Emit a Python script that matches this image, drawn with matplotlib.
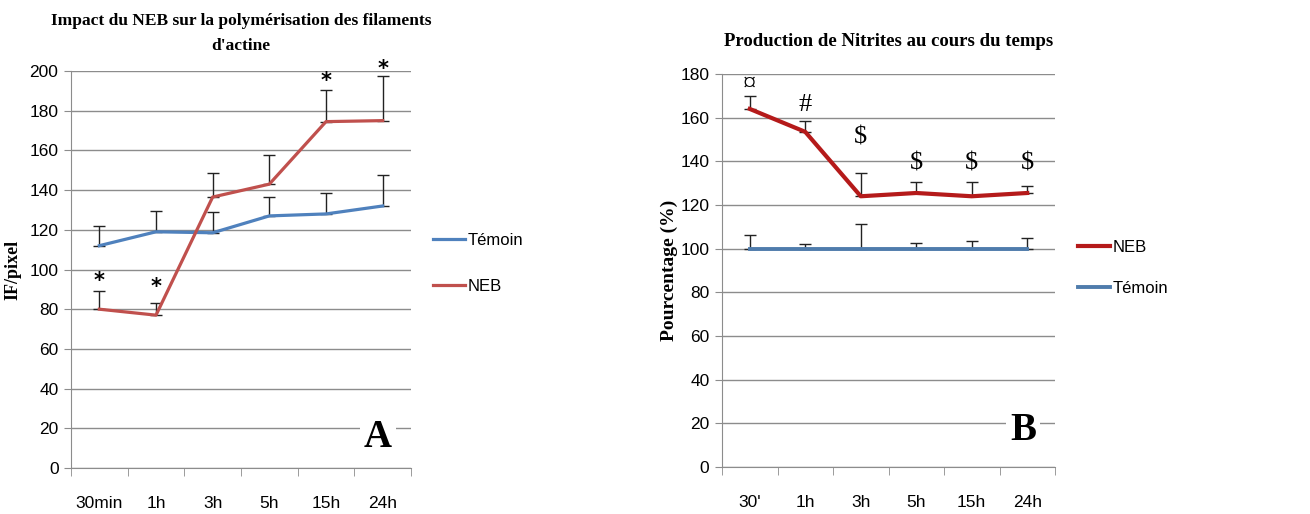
import numpy as np
import matplotlib
matplotlib.use("Agg")
import matplotlib.pyplot as plt

# --- data ---
cats_a = ["30min", "1h", "3h", "5h", "15h", "24h"]
temoin_a = [112, 119, 118.5, 127, 128, 132]
temoin_a_err = [10, 10.5, 10.5, 9.5, 10.5, 15.5]
neb_a = [80, 77, 136.5, 143, 174.5, 175]
neb_a_err = [9, 6, 12, 14.5, 16, 22.5]
stars_a = ["*", "*", "", "", "*", "*"]
stars_a_y = [94, 91, 0, 0, 195, 201]

cats_b = ["30'", "1h", "3h", "5h", "15h", "24h"]
neb_b = [164, 153.5, 124, 125.5, 124, 125.5]
neb_b_err = [6, 5, 10.5, 5, 6.5, 3]
temoin_b = [100, 100, 100, 100, 100, 100]
temoin_b_err = [6.3, 2, 11.5, 2.5, 3.3, 5]
marks_b = ["\u00a4", "#", "$", "$", "$", "$"]
marks_b_y = [175, 166, 151, 139, 139, 139]

W, H = 1310, 514
tick_font = ["Liberation Sans", "DejaVu Sans"]
serif = "Liberation Serif"
grid_c = "#8c8c8c"


def setup(ax, cats, ymax):
    x = np.arange(len(cats))
    ax.set_xlim(-0.5, len(cats) - 0.5)
    ax.set_ylim(0, ymax)
    ax.set_yticks(np.arange(0, ymax + 1, 20))
    ax.set_xticks(x)
    ax.set_xticklabels(cats)
    ax.set_xticks(np.arange(-0.5, len(cats)), minor=True)
    ax.tick_params(axis="x", which="major", length=0, pad=20)
    ax.tick_params(axis="x", which="minor", length=6, direction="out", color=grid_c)
    ax.tick_params(axis="y", length=5, color=grid_c, pad=4)
    for lab in ax.get_xticklabels() + ax.get_yticklabels():
        lab.set_family(tick_font)
        lab.set_fontsize(12.5)
    ax.grid(axis="y", color=grid_c, lw=1)
    ax.set_axisbelow(True)
    for s in ["top", "right"]:
        ax.spines[s].set_visible(False)
    for s in ["left", "bottom"]:
        ax.spines[s].set_color(grid_c)
    return x


fig = plt.figure(figsize=(W / 100, H / 100), dpi=100)

# ---------- panel A ----------
axA = fig.add_axes([71 / W, 46 / H, 340 / W, 397 / H])
x = setup(axA, cats_a, 200)
axA.errorbar(x, temoin_a, yerr=[np.zeros(6), temoin_a_err], fmt="none",
             ecolor="#222222", elinewidth=1, capsize=4, zorder=2)
axA.errorbar(x, neb_a, yerr=[np.zeros(6), neb_a_err], fmt="none",
             ecolor="#222222", elinewidth=1, capsize=4, zorder=2)
axA.plot(x, temoin_a, color="#4F81BD", lw=2.3, label="Témoin", zorder=3)
axA.plot(x, neb_a, color="#C0504D", lw=2.3, label="NEB", zorder=3)
for xi, s, sy in zip(x, stars_a, stars_a_y):
    if s:
        axA.text(xi, sy, s, ha="center", va="center", clip_on=False,
                 fontsize=15, fontweight="bold", family="DejaVu Sans")
axA.set_title("Impact du NEB sur la polymérisation des filaments\nd'actine",
              family=serif, fontweight="bold", fontsize=12.5, pad=15, linespacing=1.75)
axA.set_ylabel("IF/pixel", family=serif, fontweight="bold", fontsize=13, labelpad=6)
axA.text(0.903, 0.078, "A", transform=axA.transAxes, ha="center", va="center",
         family=serif, fontweight="bold", fontsize=28,
         bbox=dict(facecolor="white", edgecolor="none", pad=3))
axA.legend(loc="center left", bbox_to_anchor=(1.065, 0.515), frameon=False,
           borderaxespad=0, borderpad=0,
           handlelength=1.9, handletextpad=0.15, labelspacing=1.85,
           prop={"family": tick_font, "size": 12})

# ---------- panel B ----------
axB = fig.add_axes([722 / W, 47 / H, 333 / W, 393 / H])
x = setup(axB, cats_b, 180)
axB.errorbar(x, temoin_b, yerr=[np.zeros(6), temoin_b_err], fmt="none",
             ecolor="#222222", elinewidth=1, capsize=4, zorder=2)
axB.errorbar(x, neb_b, yerr=[np.zeros(6), neb_b_err], fmt="none",
             ecolor="#222222", elinewidth=1, capsize=4, zorder=2)
axB.plot(x, temoin_b, color="#4F7CAC", lw=2.8, label="Témoin", zorder=3)
axB.plot(x, neb_b, color="#B51A1A", lw=3.0, label="NEB", zorder=3)
for xi, m, my in zip(x, marks_b, marks_b_y):
    axB.text(xi, my, m, ha="center", va="center", family=[serif, "DejaVu Sans"],
             fontsize=19, clip_on=False)
axB.set_title("Production de Nitrites au cours du temps",
              family=serif, fontweight="bold", fontsize=13.5, pad=20)
axB.set_ylabel("Pourcentage (%)", family=serif, fontweight="bold", fontsize=14, labelpad=2)
axB.text(0.904, 0.094, "B", transform=axB.transAxes, ha="center", va="center",
         family=serif, fontweight="bold", fontsize=28,
         bbox=dict(facecolor="white", edgecolor="none", pad=3))
h, l = axB.get_legend_handles_labels()
axB.legend(h[::-1], l[::-1], loc="center left", bbox_to_anchor=(1.069, 0.506), frameon=False,
           borderaxespad=0, borderpad=0,
           handlelength=1.9, handletextpad=0.15, labelspacing=1.55,
           prop={"family": tick_font, "size": 12})

fig.savefig("out.png", dpi=100)
